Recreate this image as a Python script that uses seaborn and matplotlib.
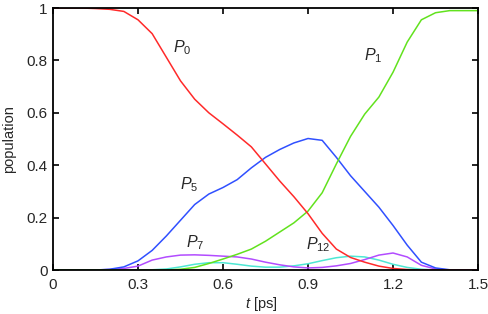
import numpy as np
import pandas as pd
import matplotlib
matplotlib.use("Agg")
import matplotlib.pyplot as plt
import seaborn as sns

# time grid in ps, populations
t_ps = [0.00, 0.05, 0.10, 0.15, 0.20, 0.25, 0.30, 0.35, 0.40, 0.45,
        0.50, 0.55, 0.60, 0.65, 0.70, 0.75, 0.80, 0.85, 0.90, 0.95,
        1.00, 1.05, 1.10, 1.15, 1.20, 1.25, 1.30, 1.35, 1.40, 1.45, 1.50]

p0 = [1.000, 1.000, 1.000, 0.998, 0.995, 0.987, 0.955, 0.902, 0.812, 0.722,
      0.652, 0.600, 0.558, 0.515, 0.470, 0.405, 0.340, 0.280, 0.215, 0.140,
      0.080, 0.048, 0.030, 0.015, 0.006, 0.002, 0.000, 0.000, 0.000, 0.000, 0.000]

p1 = [0.000, 0.000, 0.000, 0.000, 0.000, 0.000, 0.000, 0.000, 0.000, 0.003,
      0.010, 0.025, 0.042, 0.060, 0.080, 0.110, 0.145, 0.180, 0.225, 0.295,
      0.405, 0.510, 0.595, 0.660, 0.755, 0.870, 0.955, 0.982, 0.990, 0.990, 0.990]

p5 = [0.000, 0.000, 0.000, 0.000, 0.003, 0.012, 0.035, 0.075, 0.130, 0.190,
      0.250, 0.290, 0.315, 0.345, 0.390, 0.430, 0.460, 0.485, 0.502, 0.495,
      0.430, 0.360, 0.300, 0.240, 0.170, 0.095, 0.030, 0.008, 0.001, 0.000, 0.000]

p7 = [0.000, 0.000, 0.000, 0.000, 0.002, 0.006, 0.015, 0.038, 0.050, 0.057,
      0.058, 0.056, 0.053, 0.050, 0.042, 0.030, 0.020, 0.012, 0.008, 0.010,
      0.016, 0.025, 0.040, 0.057, 0.065, 0.050, 0.018, 0.004, 0.000, 0.000, 0.000]

p12 = [0.000, 0.000, 0.000, 0.000, 0.000, 0.000, 0.000, 0.001, 0.004, 0.012,
       0.022, 0.028, 0.028, 0.022, 0.015, 0.011, 0.011, 0.016, 0.024, 0.036,
       0.047, 0.053, 0.050, 0.038, 0.022, 0.010, 0.003, 0.000, 0.000, 0.000, 0.000]

states = ["P12", "P7", "P5", "P1", "P0"]
colors = {"P0": "#ff2a2a", "P1": "#62e21e", "P5": "#3050ff",
          "P7": "#b24cff", "P12": "#4ee8d4"}

df = pd.DataFrame({"t": t_ps, "P0": p0, "P1": p1, "P5": p5, "P7": p7, "P12": p12})
long = df.melt(id_vars="t", var_name="state", value_name="population")

sns.set_style("ticks")
plt.rcParams["font.family"] = ["Liberation Sans", "DejaVu Sans"]
plt.rcParams["mathtext.fontset"] = "custom"
plt.rcParams["mathtext.it"] = "Liberation Sans:italic"
plt.rcParams["mathtext.rm"] = "Liberation Sans"

fig = plt.figure(figsize=(4.88, 3.14), dpi=100)
ax = fig.add_axes([0.1086, 0.14, 0.871, 0.8345])

sns.lineplot(data=long, x="t", y="population", hue="state", hue_order=states,
             palette=colors, linewidth=1.1, legend=False, ax=ax)

ax.set_xlim(0, 1.5)
ax.set_ylim(0, 1)
ax.set_xticks([0, 0.3, 0.6, 0.9, 1.2, 1.5])
ax.set_xticklabels(["0", "0.3", "0.6", "0.9", "1.2", "1.5"])
ax.set_yticks([0, 0.2, 0.4, 0.6, 0.8, 1.0])
ax.set_yticklabels(["0", "0.2", "0.4", "0.6", "0.8", "1"])
ax.tick_params(direction="in", top=True, right=True, length=4, width=1.2,
               labelsize=11, color="black")
ax.tick_params(axis="y", pad=4)
ax.tick_params(axis="x", pad=6)
for s in ax.spines.values():
    s.set_linewidth(1.3)
    s.set_color("black")

ax.set_xlabel(r"$t$ [ps]", fontsize=10.5)
ax.set_ylabel("population", fontsize=10.5)
ax.xaxis.set_label_coords(0.49, -0.096)
ax.yaxis.set_label_coords(-0.088, 0.5)

# curve labels
labels = [("P_0", 0.455, 0.85), ("P_1", 1.13, 0.82), ("P_5", 0.48, 0.325),
          ("P_7", 0.50, 0.105), ("P_{12}", 0.935, 0.095)]
for txt, x, y in labels:
    ax.text(x, y, rf"${txt}$", fontsize=11.5, ha="center", va="center")

fig.savefig("out.png", dpi=100)
